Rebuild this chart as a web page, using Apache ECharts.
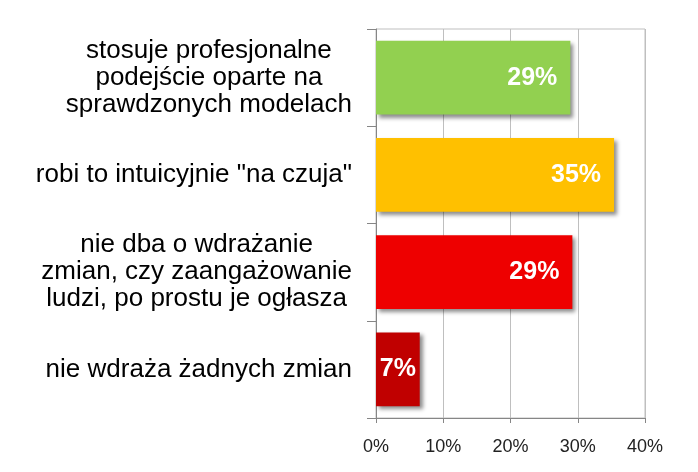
<!DOCTYPE html>
<html>
<head>
    <meta charset="utf-8">
    <title>Wdrażanie zmian</title>
    <script src="https://cdn.jsdelivr.net/npm/echarts@6/dist/echarts.min.js"></script>
    <style>
        html, body { margin: 0; padding: 0; background: #fff; }
        #chart { width: 698px; height: 472px; }
    </style>
</head>
<body>
<div id="chart"></div>
<script>
// dane
var categories = [
    'stosuje profesjonalne\npodejście oparte na\nsprawdzonych modelach',
    'robi to intuicyjnie "na czuja"',
    'nie dba o wdrażanie\nzmian, czy zaangażowanie\nludzi, po prostu je ogłasza',
    'nie wdraża żadnych zmian'
];
var values = [28.9, 35.4, 29.2, 6.5];
var valueLabels = ['29%', '35%', '29%', '7%'];
var barColors = ['#92D050', '#FFC000', '#EE0000', '#C00000'];
var xTicks = [0, 10, 20, 30, 40];

var chart = echarts.init(document.getElementById('chart'));

var seriesData = values.map(function (v, i) {
    var item = {
        value: v,
        itemStyle: { color: barColors[i] }
    };
    // najkrótszy słupek - etykieta na środku
    if (i === 3) {
        item.label = { position: 'inside' };
    }
    return item;
});

var option = {
    animation: false,
    backgroundColor: '#fff',
    grid: {
        left: 376,
        right: 53,
        top: 29,
        bottom: 54,
        show: true,
        borderColor: '#bfbfbf',
        borderWidth: 1
    },
    xAxis: {
        type: 'value',
        min: xTicks[0],
        max: xTicks[xTicks.length - 1],
        interval: 10,
        axisLine: { show: true, lineStyle: { color: '#868686' } },
        axisTick: { show: true, length: 5, lineStyle: { color: '#868686' } },
        splitLine: { show: true, lineStyle: { color: '#bfbfbf' } },
        axisLabel: {
            margin: 20,
            color: '#222',
            fontFamily: 'Liberation Sans',
            fontSize: 18,
            formatter: function (v) { return v + '%'; }
        }
    },
    yAxis: {
        type: 'category',
        inverse: true,
        data: categories,
        axisLine: { show: true, lineStyle: { color: '#868686' } },
        axisTick: { show: true, length: 9, lineStyle: { color: '#868686' } },
        axisLabel: {
            margin: 24,
            align: 'right',
            color: '#000',
            fontFamily: 'Liberation Sans',
            fontSize: 26,
            lineHeight: 27,
            formatter: function (v) { return '{c|' + v + '}'; },
            rich: {
                c: {
                    align: 'center',
                    color: '#000',
                    fontFamily: 'Liberation Sans',
                    fontSize: 26,
                    lineHeight: 27
                }
            }
        }
    },
    series: [{
        type: 'bar',
        data: seriesData,
        barCategoryGap: '24%',
        itemStyle: {
            shadowColor: 'rgba(0,0,0,0.45)',
            shadowBlur: 4,
            shadowOffsetX: 3,
            shadowOffsetY: 3
        },
        label: {
            show: true,
            position: 'insideRight',
            distance: 13,
            color: '#fff',
            fontFamily: 'Liberation Sans',
            fontWeight: 'bold',
            fontSize: 25,
            formatter: function (p) { return valueLabels[p.dataIndex]; }
        }
    }]
};

chart.setOption(option);
</script>
</body>
</html>
